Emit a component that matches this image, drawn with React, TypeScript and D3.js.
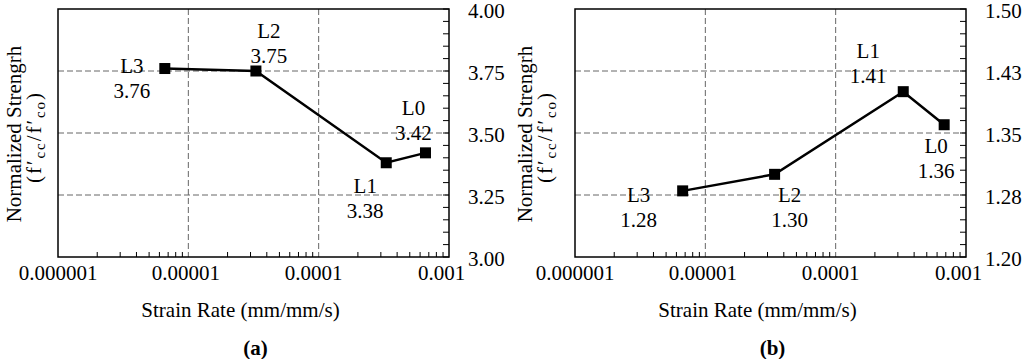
import React from 'react';
import * as d3 from 'd3';

// strain rates (mm/mm/s) of the four tests
const ratesA = [6.6e-6, 3.3e-5, 3.3e-4, 6.6e-4];
const ratesB = [6.7e-6, 3.4e-5, 3.3e-4, 6.8e-4];
const names = ['L3', 'L2', 'L1', 'L0'];

const strengthA = [3.76, 3.75, 3.38, 3.42];
const strengthB = [1.28, 1.30, 1.40, 1.36];
const labelsA = ['3.76', '3.75', '3.38', '3.42'];
const labelsB = ['1.28', '1.30', '1.41', '1.36'];

const xTickValues = [1e-6, 1e-5, 1e-4, 1e-3];
const xTickLabels = ['0.000001', '0.00001', '0.0001', '0.001'];

const yTicksA = [3.0, 3.25, 3.5, 3.75, 4.0];
const yTickLabelsA = ['3.00', '3.25', '3.50', '3.75', '4.00'];
const yTicksB = [1.2, 1.275, 1.35, 1.425, 1.5];
const yTickLabelsB = ['1.20', '1.28', '1.35', '1.43', '1.50'];

const FONT = 'Liberation Serif';

interface PanelCfg {
  left: number;
  rates: number[];
  values: number[];
  labels: string[];
  yTicks: number[];
  yTickLabels: string[];
  minorStep: number;
  tag: string;
  titleX: [number, number];
  // label placement: offsets of the name line from the marker
  offsets: [number, number][];
}

const panels: PanelCfg[] = [
  {
    left: 58, rates: ratesA, values: strengthA, labels: labelsA,
    yTicks: yTicksA, yTickLabels: yTickLabelsA, minorStep: 0.05, tag: 'a',
    titleX: [21, 41],
    offsets: [[-33, 4], [13, -33], [-21, 30], [-12, -38]],
  },
  {
    left: 575, rates: ratesB, values: strengthB, labels: labelsB,
    yTicks: yTicksB, yTickLabels: yTickLabelsB, minorStep: 0.015, tag: 'b',
    titleX: [532, 552],
    offsets: [[-44, 11], [15, 28], [-35, -34], [-8, 28]],
  },
];

const plotTop = 9, plotBottom = 257, plotW = 391;
const textStyle: React.CSSProperties = { fontFamily: FONT };

function Panel({ p }: { p: PanelCfg }) {
  const x = d3.scaleLog().domain([1e-6, 1e-3]).range([p.left, p.left + plotW]);
  const y0 = p.yTicks[0], y1 = p.yTicks[p.yTicks.length - 1];
  const y = d3.scaleLinear().domain([y0, y1]).range([plotBottom, plotTop]);
  const right = p.left + plotW;

  const minors: number[] = [];
  [1e-6, 1e-5, 1e-4].forEach(d => d3.range(2, 10).forEach(k => minors.push(k * d)));
  const n = Math.round((y1 - y0) / p.minorStep);
  const yMinor = d3.range(0, n + 1).map(i => y0 + i * p.minorStep);

  const pts = p.rates.map((r, i) => [x(r), y(p.values[i])] as [number, number]);
  const cy = (plotTop + plotBottom) / 2;

  return (
    <g>
      {p.yTicks.slice(1, -1).map((t, i) => (
        <line key={'gy' + i} x1={p.left} x2={right} y1={y(t)} y2={y(t)}
          stroke="#666" strokeWidth={1} strokeDasharray="6,3" />
      ))}
      {xTickValues.slice(1, -1).map((t, i) => (
        <line key={'gx' + i} x1={x(t)} x2={x(t)} y1={plotTop} y2={plotBottom}
          stroke="#666" strokeWidth={1} strokeDasharray="6,3" />
      ))}
      {minors.map((t, i) => (
        <line key={'mx' + i} x1={x(t)} x2={x(t)} y1={plotBottom} y2={plotBottom - 5}
          stroke="#000" strokeWidth={1} />
      ))}
      {yMinor.map((v, i) => (
        <line key={'my' + i} x1={right} x2={right - 6} y1={y(v)} y2={y(v)}
          stroke="#000" strokeWidth={1} />
      ))}
      <rect x={p.left} y={plotTop} width={plotW} height={plotBottom - plotTop}
        fill="none" stroke="#000" strokeWidth={1.5} />

      {p.yTicks.map((t, i) => (
        <text key={'yl' + i} x={right + 19} y={y(t) + 9} fontSize={21} style={textStyle}>
          {p.yTickLabels[i]}
        </text>
      ))}
      {xTickValues.map((t, i) => (
        <text key={'xl' + i} x={x(t) - i * 2.5} y={280} fontSize={21} textAnchor="middle" style={textStyle}>
          {xTickLabels[i]}
        </text>
      ))}
      <text x={p.left + plotW / 2 - 13} y={317} fontSize={21} textAnchor="middle" style={textStyle}>
        Strain Rate (mm/mm/s)
      </text>
      <text x={p.left + plotW / 2 + 2} y={355} fontSize={21} textAnchor="middle" fontWeight="bold" style={textStyle}>
        ({p.tag})
      </text>

      <text transform={`translate(${p.titleX[0]},${cy + 1}) rotate(-90)`} fontSize={21}
        textAnchor="middle" style={textStyle}>
        Normalized Strengrh
      </text>
      <text transform={`translate(${p.titleX[1]},${cy + 5}) rotate(-90)`} fontSize={21}
        textAnchor="middle" textLength={90} lengthAdjust="spacing" style={textStyle}>
        <tspan>(f′</tspan>
        <tspan fontSize={15} dy={4}>cc</tspan>
        <tspan dy={-4}>/f′</tspan>
        <tspan fontSize={15} dy={4}>co</tspan>
        <tspan dy={-4}>)</tspan>
      </text>

      <path d={d3.line()(pts) || ''} fill="none" stroke="#000" strokeWidth={2.5} />
      {pts.map(([px, py], i) => (
        <rect key={'pt' + i} x={px - 5.5} y={py - 5.5} width={11} height={11} fill="#000" />
      ))}

      {pts.map(([px, py], i) => {
        const [dx, dy] = p.offsets[i];
        return (
          <g key={'lb' + i}>
            <text x={px + dx} y={py + dy} fontSize={21} textAnchor="middle" style={textStyle}>
              {names[i]}
            </text>
            <text x={px + dx} y={py + dy + 25} fontSize={21} textAnchor="middle" style={textStyle}>
              {p.labels[i]}
            </text>
          </g>
        );
      })}
    </g>
  );
}

export default function App() {
  return (
    <svg width={1024} height={359}
      style={{ position: 'absolute', left: 0, top: 0, background: '#fff' }}>
      {panels.map(p => <Panel key={p.tag} p={p} />)}
    </svg>
  );
}
